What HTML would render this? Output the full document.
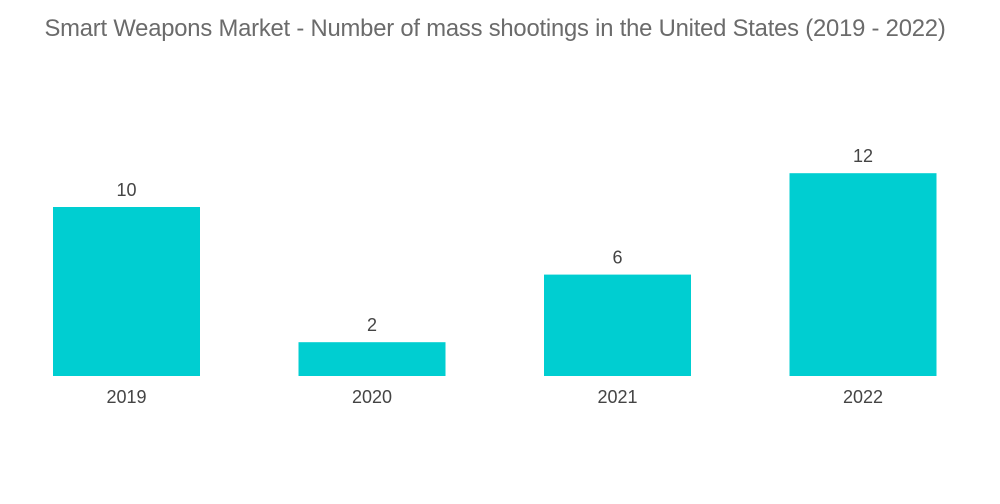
<!DOCTYPE html>
<html>
<head>
<meta charset="utf-8">
<style>
  html,body{margin:0;padding:0;background:#fff;}
  body{width:1000px;height:504px;overflow:hidden;font-family:"Liberation Sans",sans-serif;}
  #title{position:absolute;left:0;top:15px;width:990px;text-align:center;font-size:23.8px;color:#6b6b6b;letter-spacing:-0.2px;white-space:nowrap;}
</style>
</head>
<body>
<div id="title">Smart Weapons Market - Number of mass shootings in the United States (2019 - 2022)</div>
<svg id="chart" width="1000" height="504" style="position:absolute;left:0;top:0"></svg>
<script>
const categories = ["2019", "2020", "2021", "2022"];
const values = [10, 2, 6, 12];
const valueLabels = ["10", "2", "6", "12"];

const svg = document.getElementById('chart');
const NS = 'http://www.w3.org/2000/svg';
const baseline = 376, unit = 16.9;
const x0 = 53, step = 245.5, barW = 147;
function xScale(i){ return x0 + i*step; }
function yScale(v){ return baseline - v*unit; }

categories.forEach((c, i) => {
  const x = xScale(i), y = yScale(values[i]);
  const r = document.createElementNS(NS, 'rect');
  r.setAttribute('x', x); r.setAttribute('y', y);
  r.setAttribute('width', barW); r.setAttribute('height', baseline - y);
  r.setAttribute('fill', '#00ced1');
  
  
  svg.appendChild(r);

  const vt = document.createElementNS(NS, 'text');
  vt.setAttribute('x', x + barW/2); vt.setAttribute('y', y - 11);
  vt.setAttribute('text-anchor', 'middle');
  vt.setAttribute('font-family', 'Liberation Sans, sans-serif');
  vt.setAttribute('font-size', '18'); vt.setAttribute('fill', '#444');
  vt.textContent = valueLabels[i];
  
  
  svg.appendChild(vt);

  const ct = document.createElementNS(NS, 'text');
  ct.setAttribute('x', x + barW/2); ct.setAttribute('y', 403);
  ct.setAttribute('text-anchor', 'middle');
  ct.setAttribute('font-family', 'Liberation Sans, sans-serif');
  ct.setAttribute('font-size', '18'); ct.setAttribute('fill', '#444');
  ct.textContent = c;
  
  
  svg.appendChild(ct);
});
</script>
</body>
</html>
